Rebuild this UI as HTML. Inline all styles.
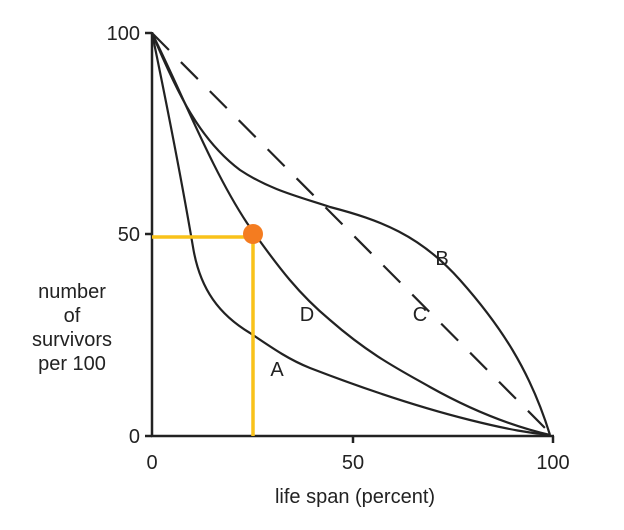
<!DOCTYPE html>
<html><head><style>body{margin:0;background:#fff}</style></head><body>
<svg width="624" height="525" viewBox="0 0 624 525" xmlns="http://www.w3.org/2000/svg" font-family="Liberation Sans, Arial, sans-serif" fill="none">
<g stroke="#222" stroke-width="2.5">
<line x1="152" y1="32" x2="152" y2="437"/>
<line x1="151" y1="436" x2="554" y2="436"/>
<line x1="145" y1="33" x2="152" y2="33"/>
<line x1="145" y1="234" x2="152" y2="234"/>
<line x1="145" y1="436" x2="152" y2="436"/>
<line x1="353" y1="436" x2="353" y2="443"/>
<line x1="553" y1="436" x2="553" y2="443"/>
</g>
<g stroke="#222" stroke-width="2.2">
<path d="M152,33 C170,120 185,200 193,247 C200,290 220,315 250,333 C275,350 290,360 310,368 C380,395 430,410 470,420 C510,430 530,433 550,435"/>
<path d="M152,33 C185,100 212,170 247,223 C280,270 300,295 330,320 C370,355 400,370 430,387 C480,415 520,428 550,435"/>
<path d="M152,33 C178,95 200,140 240,170 C270,190 300,197 330,207 C380,220 420,235 460,280 C500,325 530,370 550,435"/>
<path d="M152,33 L550,433" stroke-dasharray="24,17"/>
</g>
<g stroke="#f9c21a" stroke-width="3.5">
<line x1="152" y1="237" x2="253" y2="237"/>
<line x1="253" y1="237" x2="253" y2="436"/>
</g>
<circle cx="253" cy="234" r="10" fill="#f47c20"/>
<g fill="#222" font-size="20">
<text x="442" y="265" text-anchor="middle">B</text>
<text x="420" y="321" text-anchor="middle">C</text>
<text x="307" y="321" text-anchor="middle">D</text>
<text x="277" y="376" text-anchor="middle">A</text>
<text x="140" y="40" text-anchor="end">100</text>
<text x="140" y="241" text-anchor="end">50</text>
<text x="140" y="443" text-anchor="end">0</text>
<text x="152" y="469" text-anchor="middle">0</text>
<text x="353" y="469" text-anchor="middle">50</text>
<text x="553" y="469" text-anchor="middle">100</text>
<text x="355" y="503" text-anchor="middle">life span (percent)</text>
<text x="72" y="298" text-anchor="middle">number</text>
<text x="72" y="322" text-anchor="middle">of</text>
<text x="72" y="346" text-anchor="middle">survivors</text>
<text x="72" y="370" text-anchor="middle">per 100</text>
</g>
</svg>
</body></html>
